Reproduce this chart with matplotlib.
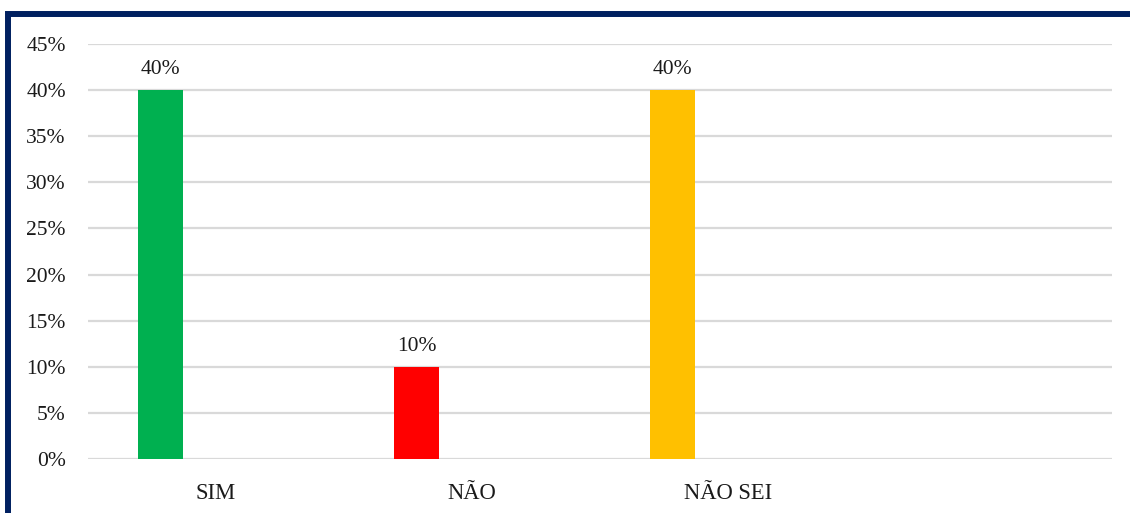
import matplotlib
matplotlib.use("Agg")
import matplotlib.pyplot as plt
from matplotlib.patches import Rectangle
from matplotlib.ticker import PercentFormatter

categories = ["SIM", "NÃO", "NÃO SEI", ""]
values = [0.40, 0.10, 0.40]
bar_colors = ["#00B050", "#FF0000", "#FFC000"]
y_ticks = [0.00, 0.05, 0.10, 0.15, 0.20, 0.25, 0.30, 0.35, 0.40, 0.45]

plt.rcParams["font.family"] = ["Liberation Serif", "DejaVu Serif"]
FS = 15.5

fig = plt.figure(figsize=(11.30, 5.13), dpi=100)
fig.patch.set_facecolor("white")
ax = fig.add_axes([88 / 1130, 1 - 459 / 513, (1112 - 88) / 1130, (459 - 44) / 513])

width = 0.176
offset = -0.217
xs = [i + offset for i in range(len(values))]
bars = ax.bar(xs, values, width=width, color=bar_colors, zorder=3)
for b, v in zip(bars, values):
    ax.annotate(f"{v:.0%}", (b.get_x() + b.get_width() / 2, v),
                xytext=(0, 8), textcoords="offset points",
                ha="center", va="bottom", fontsize=FS, color="#1A1A1A")

ax.set_xlim(-0.5, len(categories) - 0.5)
ax.set_ylim(0, 0.45)
ax.set_xticks(range(len(categories)))
ax.set_xticklabels(categories, fontsize=16.3, color="#1A1A1A")
ax.set_yticks(y_ticks)
ax.yaxis.set_major_formatter(PercentFormatter(1.0, decimals=0))
ax.tick_params(axis="y", length=0, pad=16, labelsize=FS, labelcolor="#1A1A1A")
ax.tick_params(axis="x", length=0, pad=17)
ax.grid(axis="y", color="#D9D9D9", linewidth=1.6, zorder=0)
ax.set_axisbelow(True)
for s in ax.spines.values():
    s.set_visible(False)

# Navy frame around the chart area
frame = Rectangle((7.5 / 1130, -0.1), 1.2, 1.1 - 14 / 513,
                  transform=fig.transFigure, fill=False,
                  edgecolor="#002060", linewidth=4.3, clip_on=False)
fig.patches.append(frame)

fig.savefig("out.png", dpi=100, facecolor="white")
